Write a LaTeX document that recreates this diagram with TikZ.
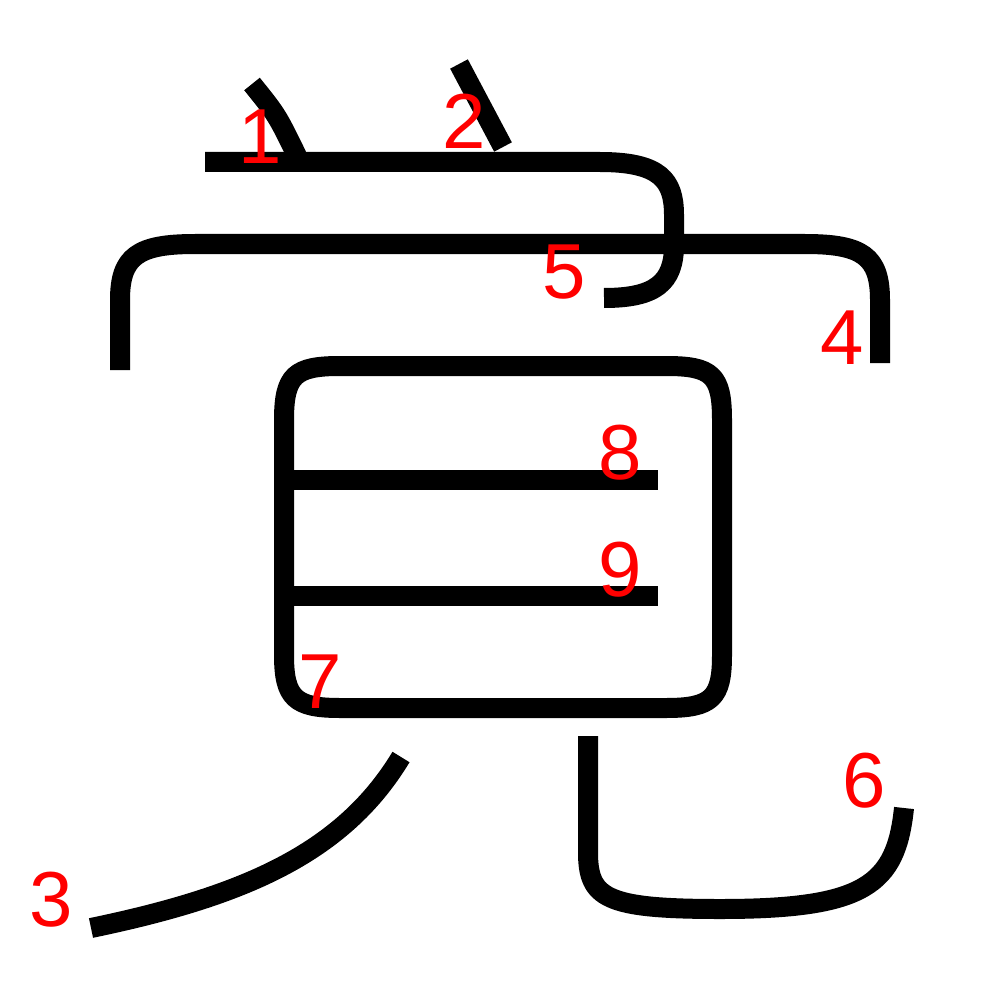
\documentclass[tikz,border=0pt]{standalone}
\usepackage{fontspec}
\setmainfont{Liberation Sans}
\begin{document}
\begin{tikzpicture}[x=1pt,y=-1pt,
  stroke/.style={line width=20,line join=round,draw=black},
  num/.style={text=red,inner sep=0,font=\fontsize{78}{78}\selectfont}]
\useasboundingbox (0,0) rectangle (1000,1000);
% stroke 1
\draw[stroke] (252,84) .. controls (277,115) .. (297,156);
% stroke 2
\draw[stroke] (459,64) -- (503,147);
% stroke 3
\draw[stroke] (401,757) .. controls (342,855) and (240,897) .. (91,928);
% stroke 4
\draw[stroke] (120,370) -- (120,300) .. controls (120,256) and (138,244) .. (195,244) -- (805,244) .. controls (862,244) and (880,256) .. (880,300) -- (880,363);
% stroke 5
\draw[stroke] (205,162) -- (600,162) .. controls (660,162) and (674,180) .. (674,215) -- (674,245) .. controls (674,283) and (655,298) .. (604,298);
% stroke 6
\draw[stroke] (588,736) -- (588,852) .. controls (588,898) and (605,909) .. (720,909) .. controls (865,909) and (896,885) .. (904,808);
% stroke 7
\draw[stroke] (284,420) .. controls (284,375) and (295,366) .. (340,366) -- (666,366) .. controls (712,366) and (722,375) .. (722,420) -- (722,655) .. controls (722,698) and (712,708) .. (666,708) -- (340,708) .. controls (295,708) and (284,698) .. (284,655) -- cycle;
% strokes 8, 9
\draw[stroke] (294,480) -- (658,480);
\draw[stroke] (294,596) -- (658,596);
% labels
\node[num] (l1) at (260,137) {1};
\node[num] (l2) at (464,121) {2};
\node[num] (l3) at (51,900) {3};
\node[num] (l4) at (842,338) {4};
\node[num] (l5) at (564,272) {5};
\node[num] (l6) at (864,781) {6};
\node[num] (l7) at (320,682) {7};
\node[num] (l8) at (620,453) {8};
\node[num] (l9) at (620,570) {9};
\end{tikzpicture}
\end{document}
